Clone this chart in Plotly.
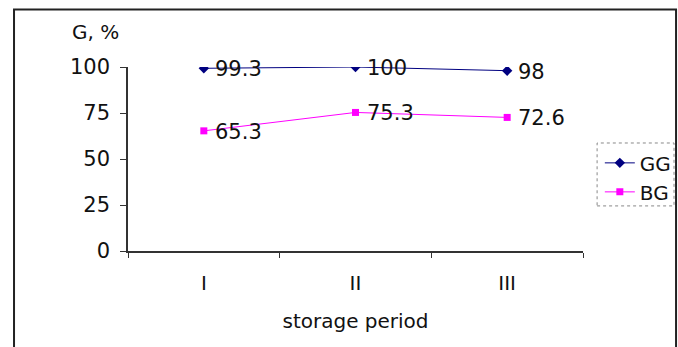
import plotly.graph_objects as go

periods = ["I", "II", "III"]
gg_values = [99.3, 100, 98]
bg_values = [65.3, 75.3, 72.6]
y_ticks = [0, 25, 50, 75, 100]

FONT = "DejaVu Sans"
TEXT_COLOR = "#111111"
fig = go.Figure()

fig.add_trace(go.Scatter(
    x=periods, y=gg_values, name="GG", mode="lines+markers",
    line=dict(color="#000080", width=1),
    marker=dict(symbol="diamond", size=8, color="#000080"),
))
fig.add_trace(go.Scatter(
    x=periods, y=bg_values, name="BG", mode="lines+markers",
    line=dict(color="#FF00FF", width=1),
    marker=dict(symbol="square", size=7, color="#FF00FF"),
))

# value labels placed just right of each marker
labels = []
for series in (gg_values, bg_values):
    for p, v in zip(periods, series):
        labels.append(dict(
            x=p, y=v, xref="x", yref="y", text=f"{v:g}",
            xanchor="left", yanchor="middle", xshift=9, yshift=-1,
            showarrow=False, font=dict(family=FONT, size=21, color=TEXT_COLOR),
        ))

labels.append(dict(
    text="G, %", xref="paper", yref="paper", x=-0.072, y=1.19,
    xanchor="center", yanchor="middle", showarrow=False,
    font=dict(family=FONT, size=20, color=TEXT_COLOR),
))

fig.update_layout(
    width=678, height=347,
    margin=dict(l=128, r=95, t=67, b=96, autoexpand=False),
    paper_bgcolor="white", plot_bgcolor="white",
    font=dict(family=FONT, size=20, color=TEXT_COLOR),
    showlegend=True,
    legend=dict(
        x=1.037, y=0.585, xanchor="left", yanchor="top",
        bgcolor="rgba(0,0,0,0)", borderwidth=0,
        font=dict(family=FONT, size=20, color=TEXT_COLOR),
        tracegroupgap=0,
    ),
    xaxis=dict(
        type="category", range=[-0.5, 2.5],
        showline=True, linecolor="#333333", linewidth=1.5,
        ticks="outside", tickson="boundaries", ticklen=5, tickcolor="#333333",
        showgrid=False, ticklabelstandoff=13,
        title=dict(text="storage period", font=dict(family=FONT, size=20), standoff=20),
    ),
    yaxis=dict(
        range=[0, 100], tickvals=y_ticks,
        showline=True, linecolor="#333333", linewidth=1.5,
        ticks="outside", ticklen=6, tickcolor="#333333",
        showgrid=False, zeroline=False, ticklabelstandoff=6,
        tickfont=dict(family=FONT, size=21),
    ),
    annotations=labels,
    shapes=[
        # outer frame of the chart
        dict(type="rect", xref="paper", yref="paper",
             x0=-0.2505, x1=1.2045, y0=-0.56, y1=1.313,
             line=dict(color="#222222", width=2), layer="below"),
        # dotted legend box
        dict(type="rect", xref="paper", yref="paper",
             x0=1.031, x1=1.2, y0=0.245, y1=0.587,
             line=dict(color="#888888", width=1, dash="dot"), layer="below"),
    ],
)

fig.write_html("out.html")
